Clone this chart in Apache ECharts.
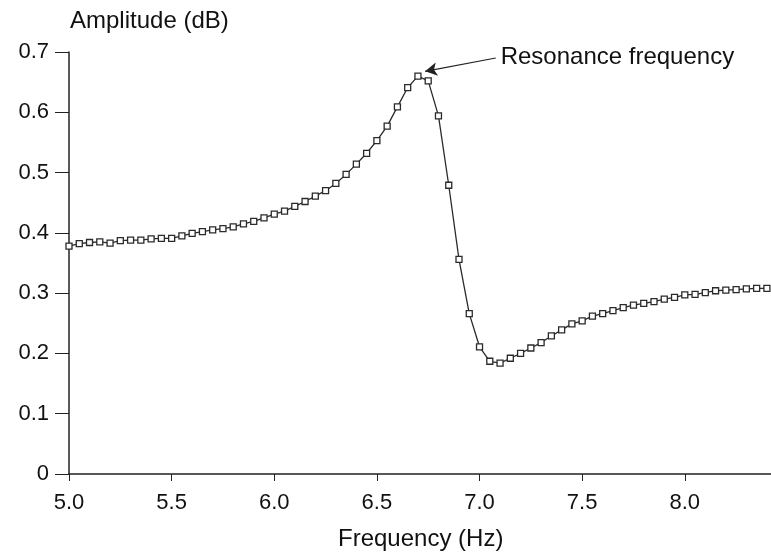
<!DOCTYPE html>
<html><head><meta charset="utf-8">
<script src="https://cdn.jsdelivr.net/npm/echarts@6/dist/echarts.min.js"></script>
<style>html,body{margin:0;padding:0;background:#fff}#c{width:771px;height:556px}</style>
</head><body><div id="c"></div>
<script>
var freq = [5.00,5.05,5.10,5.15,5.20,5.25,5.30,5.35,5.40,5.45,5.50,5.55,5.60,5.65,5.70,5.75,5.80,5.85,5.90,5.95,
6.00,6.05,6.10,6.15,6.20,6.25,6.30,6.35,6.40,6.45,6.50,6.55,6.60,6.65,6.70,6.75,6.80,6.85,6.90,6.95,
7.00,7.05,7.10,7.15,7.20,7.25,7.30,7.35,7.40,7.45,7.50,7.55,7.60,7.65,7.70,7.75,7.80,7.85,7.90,7.95,
8.00,8.05,8.10,8.15,8.20,8.25,8.30,8.35,8.40];
var amplitude = [0.378,0.382,0.384,0.385,0.383,0.387,0.388,0.388,0.390,0.391,0.391,0.395,0.399,0.402,0.405,0.407,0.410,0.415,0.419,0.425,
0.431,0.436,0.444,0.452,0.461,0.470,0.482,0.497,0.514,0.532,0.553,0.577,0.609,0.641,0.660,0.652,0.594,0.479,0.356,0.266,
0.211,0.187,0.184,0.192,0.200,0.209,0.218,0.229,0.239,0.249,0.254,0.262,0.266,0.271,0.276,0.280,0.283,0.286,0.290,0.293,
0.297,0.298,0.301,0.304,0.305,0.306,0.307,0.308,0.308];
var xTickValues = [5.0,5.5,6.0,6.5,7.0,7.5,8.0];
var xTicks = ['5.0','5.5','6.0','6.5','7.0','7.5','8.0'];
var yTicks = ['0','0.1','0.2','0.3','0.4','0.5','0.6','0.7'];
var annotationText = 'Resonance frequency';
var annotationFrom = [7.079, 0.690];
var annotationTo = [6.735, 0.668];

var font = 'Liberation Sans, Arial, Helvetica, sans-serif';
var chart = echarts.init(document.getElementById('c'), null, {renderer:'canvas'});
var data = freq.map(function(f,i){return [f, amplitude[i]];});
chart.setOption({
  animation:false,
  backgroundColor:'#fff',
  grid:{left:69, right:0, top:52, bottom:82, containLabel:false},
  xAxis:{type:'value', min:5, max:8.42,
    axisLine:{show:true, lineStyle:{color:'#222', width:1.5}},
    axisTick:{show:true, length:7, customValues:xTickValues, lineStyle:{color:'#222', width:1}},
    splitLine:{show:false},
    axisLabel:{color:'#111', fontSize:22, fontFamily:font, margin:18, customValues:xTickValues,
      formatter:function(v){var i=Math.round((v-5)/0.5); return xTicks[i];}}
  },
  yAxis:{type:'value', min:0, max:0.7, interval:0.1,
    axisLine:{show:true, lineStyle:{color:'#222', width:1.5}},
    axisTick:{show:true, length:14, lineStyle:{color:'#222', width:1}},
    splitLine:{show:false},
    axisLabel:{color:'#111', fontSize:22, fontFamily:font, margin:20,
      formatter:function(v){var i=Math.round(v*10); return yTicks[i];}}
  },
  graphic:[
    {type:'text', left:70, top:9, style:{text:'Amplitude (dB)', fill:'#111', font:'24px '+font}},
    {type:'text', left:338, top:527, style:{text:'Frequency (Hz)', fill:'#111', font:'24px '+font}}
  ],
  series:[{
    type:'line', data:data, symbol:'rect', symbolSize:6,
    lineStyle:{color:'#2a2a2a', width:1.3},
    itemStyle:{color:'#fff', borderColor:'#2a2a2a', borderWidth:1.3},
    markLine:{
      silent:true, symbol:['none','arrow'], symbolSize:[10,12],
      lineStyle:{color:'#222', width:1.2, type:'solid'},
      label:{show:true, position:'start', formatter:annotationText, color:'#111', fontSize:24, fontFamily:font, distance:5, padding:[6,0,0,0]},
      data:[[{coord:annotationFrom},{coord:annotationTo}]]
    }
  }]
});
</script></body></html>
